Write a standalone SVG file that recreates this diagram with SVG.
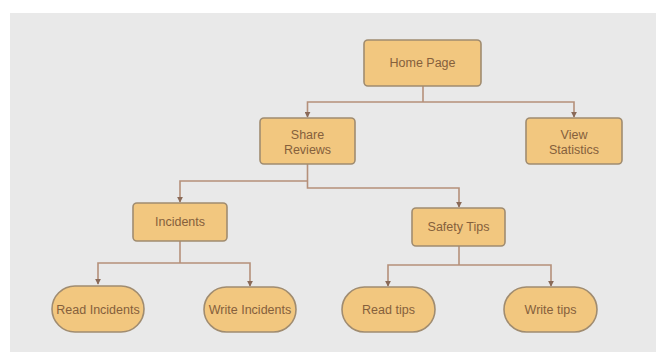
<svg xmlns="http://www.w3.org/2000/svg" width="656" height="352" viewBox="0 0 656 352">
  <defs>
    <marker id="arrow" viewBox="0 0 8 8" refX="7" refY="4" markerWidth="6" markerHeight="6" orient="auto" markerUnits="userSpaceOnUse">
      <path d="M0,0 L8,4 L0,8 Z" fill="#8a6a58"/>
    </marker>
    <style>
      .box { fill: #f2c77f; stroke: #a08c70; stroke-width: 1.6; }
      .lbl { font-family: "Liberation Sans", Arial, sans-serif; font-size: 12.5px; fill: #85603c; text-anchor: middle; }
      .wire { fill: none; stroke: #b5907a; stroke-width: 1.6; }
      .wire-arrow { fill: none; stroke: #b5907a; stroke-width: 1.6; marker-end: url(#arrow); }
    </style>
  </defs>

  <!-- canvas background -->
  <rect x="0" y="0" width="656" height="352" fill="#ffffff"/>
  <rect x="10" y="13" width="646" height="339" fill="#e9e9e9"/>

  <!-- connectors -->
  <g id="connectors">
    <!-- Home Page -> Share Reviews / View Statistics -->
    <path class="wire" d="M423,86 V102"/>
    <path class="wire-arrow" d="M423,102 H307.5 V117"/>
    <path class="wire-arrow" d="M423,102 H574 V117"/>
    <!-- Share Reviews -> Incidents / Safety Tips -->
    <path class="wire" d="M307.5,164 V181"/>
    <path class="wire-arrow" d="M307.5,181 H180 V202"/>
    <path class="wire-arrow" d="M307.5,181 V188 H459 V207"/>
    <!-- Incidents -> Read / Write Incidents -->
    <path class="wire" d="M180,241 V263"/>
    <path class="wire-arrow" d="M180,263 H98 V284"/>
    <path class="wire-arrow" d="M180,263 H250 V286"/>
    <!-- Safety Tips -> Read / Write tips -->
    <path class="wire" d="M459,246 V265"/>
    <path class="wire-arrow" d="M459,265 H388 V286"/>
    <path class="wire-arrow" d="M459,265 H551 V286"/>
  </g>

  <!-- nodes -->
  <g id="home-page">
    <rect class="box" x="364" y="40" width="117" height="46" rx="4"/>
    <text class="lbl" x="422.5" y="67">Home Page</text>
  </g>
  <g id="share-reviews">
    <rect class="box" x="260" y="118" width="95" height="46" rx="4"/>
    <text class="lbl" x="307.5" y="138.5">Share</text>
    <text class="lbl" x="307.5" y="154">Reviews</text>
  </g>
  <g id="view-statistics">
    <rect class="box" x="526" y="118" width="96" height="46" rx="4"/>
    <text class="lbl" x="574" y="138.5">View</text>
    <text class="lbl" x="574" y="154">Statistics</text>
  </g>
  <g id="incidents">
    <rect class="box" x="133" y="203" width="94" height="38" rx="4"/>
    <text class="lbl" x="180" y="226">Incidents</text>
  </g>
  <g id="safety-tips">
    <rect class="box" x="412" y="208" width="93" height="38" rx="4"/>
    <text class="lbl" x="458.5" y="231">Safety Tips</text>
  </g>
  <g id="read-incidents">
    <rect class="box" x="52" y="286" width="92" height="46" rx="23"/>
    <text class="lbl" x="98" y="313.5">Read Incidents</text>
  </g>
  <g id="write-incidents">
    <rect class="box" x="204" y="287" width="92" height="45" rx="22.5"/>
    <text class="lbl" x="250" y="313.5">Write Incidents</text>
  </g>
  <g id="read-tips">
    <rect class="box" x="342" y="287" width="93" height="45" rx="22.5"/>
    <text class="lbl" x="388.5" y="313.5">Read tips</text>
  </g>
  <g id="write-tips">
    <rect class="box" x="504" y="287" width="93" height="45" rx="22.5"/>
    <text class="lbl" x="550.5" y="313.5">Write tips</text>
  </g>
</svg>
